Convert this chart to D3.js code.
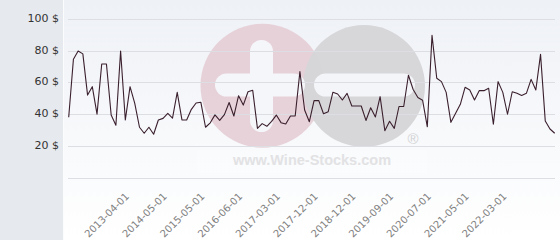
<!DOCTYPE html>
<html><head><meta charset="utf-8">
<script src="https://cdn.jsdelivr.net/npm/d3@7"></script>
<style>html,body{margin:0;padding:0;background:#fff;}svg{display:block;}</style>
</head><body>
<script>
const values = [38,74.6,79.8,78,52,57.3,40,71.6,71.6,39.4,33,79.8,36.3,57.3,46.8,31.7,27.9,31.7,27.3,36.3,
37.3,40.5,37.5,53.7,36.3,36.3,43,47,47.5,31.7,34.5,39.5,36,39.7,47.3,38.8,51.6,45.7,54.1,55,
31,34,32.3,35.4,39.4,34.6,33.8,38.8,38.8,66.8,42.6,35.2,48.5,48.5,40.2,41.5,53.8,52.7,48.9,53.1,
45.1,45.1,45.1,36,44,38.2,51,29.5,35.5,31,44.8,44.8,64.5,55.5,50.5,48.8,32,89.7,62.6,60.5,
53.7,34.8,40.5,46.2,56.9,55.2,48.9,54.8,54.8,56.3,33.6,60.5,53.7,39.9,54.1,53.1,51.8,53.1,61.9,55.2,
77.7,35.6,30.6,27.9];
const tickIndex = [12,20,28,36,44,52,60,68,76,84,92];
const tickLabels = ["2013-04-01","2014-05-01","2015-05-01","2016-06-01","2017-03-01","2017-12-01","2018-12-01","2019-09-01","2020-07-01","2021-05-01","2022-03-01"];
const yTicks = [20,40,60,80,100];

const W = 560, H = 240;
const svg = d3.select("body").append("svg").attr("width", W).attr("height", H);
const defs = svg.append("defs");
const g1 = defs.append("linearGradient").attr("id","bg").attr("x1",0).attr("y1",0).attr("x2",0).attr("y2",1);
g1.append("stop").attr("offset","0%").attr("stop-color","#eef1f6");
g1.append("stop").attr("offset","100%").attr("stop-color","#ffffff");

svg.append("rect").attr("x",0).attr("y",0).attr("width",W).attr("height",H).attr("fill","url(#bg)");
svg.append("rect").attr("x",0).attr("y",0).attr("width",63).attr("height",H).attr("fill","#e6e9ed");
svg.append("rect").attr("x",63).attr("y",0).attr("width",1).attr("height",H).attr("fill","#fbfcfd");

const x = d3.scaleLinear().domain([0, values.length - 1]).range([68.7, 554.7]);
const y = d3.scaleLinear().domain([0, 100]).range([177.5, 19]);

// watermark
const wm = svg.append("g");
wm.append("rect").attr("x",197).attr("y",150).attr("width",230).attr("height",23).attr("fill","#ffffff").attr("opacity",0.25);
wm.append("circle").attr("cx",262.5).attr("cy",85.7).attr("r",62).attr("fill","#e6cdd5").attr("opacity",0.9);
wm.append("circle").attr("cx",364).attr("cy",86).attr("r",61).attr("fill","#d5d5d8").attr("opacity",0.95);
wm.append("rect").attr("x",250).attr("y",40).attr("width",23).attr("height",92).attr("rx",11.5).attr("fill","#f5f6f9");
wm.append("rect").attr("x",215).attr("y",73.5).attr("width",90).attr("height",23).attr("rx",11.5).attr("fill","#f5f6f9");
wm.append("rect").attr("x",314).attr("y",73.5).attr("width",101).attr("height",23).attr("rx",11.5).attr("fill","#f4f5f8");
wm.append("text").attr("x",312).attr("y",165).attr("text-anchor","middle")
  .attr("font-family","Liberation Sans, Arial, sans-serif").attr("font-weight","bold").attr("font-size",14.5)
  .attr("fill","#e2e2e4").text("www.Wine-Stocks.com");
wm.append("text").attr("x",413).attr("y",144).attr("text-anchor","middle")
  .attr("font-family","Liberation Sans, Arial, sans-serif").attr("font-size",15)
  .attr("fill","#d2d2d4").text("®");

// grid
const grid = svg.append("g");
grid.selectAll("line").data([0].concat(yTicks)).join("line")
  .attr("x1",68).attr("x2",555)
  .attr("y1",d=>Math.round(y(d))+0.5).attr("y2",d=>Math.round(y(d))+0.5)
  .attr("stroke","#dcdee4").attr("stroke-width",1);

// y labels
svg.append("g").selectAll("text").data(yTicks).join("text")
  .attr("x",59).attr("y",d=>y(d)+3)
  .attr("text-anchor","end")
  .attr("font-family","DejaVu Sans, sans-serif").attr("font-size",11)
  .attr("fill","#333").text(d=>d+" $");

// x labels
const xAxis = d3.axisBottom(x).tickValues(tickIndex).tickSize(0)
  .tickFormat((d,i)=>tickLabels[i]);
const ax = svg.append("g").attr("transform","translate(0,178)").call(xAxis);
ax.select(".domain").remove();
ax.selectAll("text")
  .attr("font-family","DejaVu Sans, sans-serif").attr("font-size",10).attr("fill","#808080")
  .attr("text-anchor","end").attr("dy",null).attr("y",0)
  .attr("transform","translate(4,19) rotate(-45)");

// line
const line = d3.line().x((d,i)=>x(i)).y(d=>y(d));
svg.append("path").datum(values).attr("d",line)
  .attr("fill","none").attr("stroke","#3a1f2c").attr("stroke-width",1.1).attr("stroke-linejoin","round");
</script>
</body></html>
